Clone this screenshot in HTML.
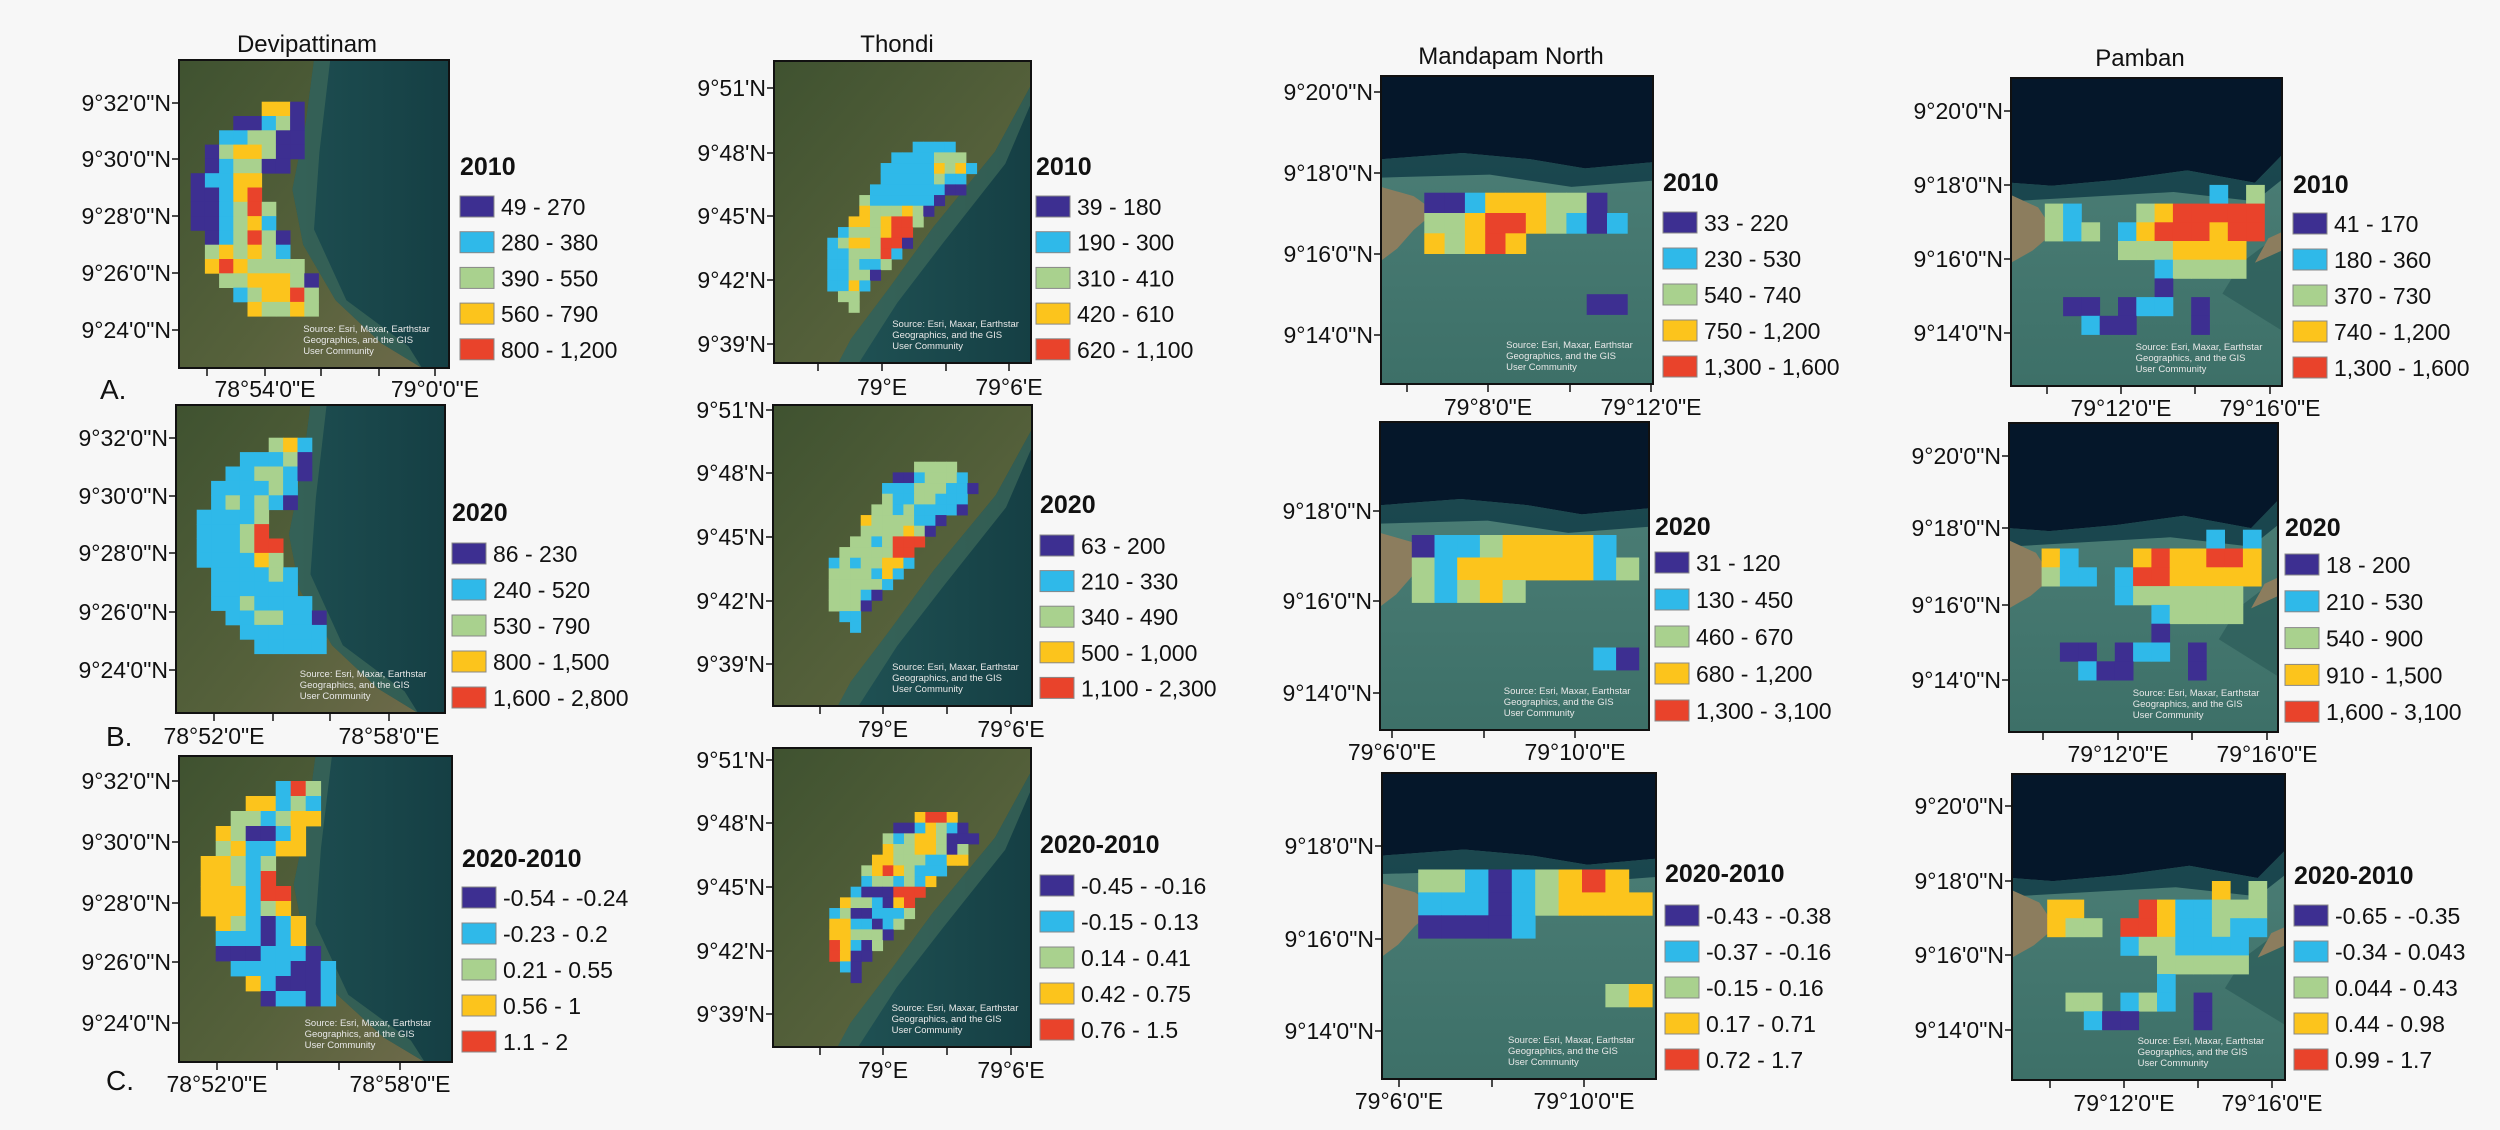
<!DOCTYPE html>
<html><head><meta charset="utf-8"><title>Shoreline change grids</title>
<style>
html,body{margin:0;padding:0;background:#f7f7f7;}
svg{display:block;font-family:"Liberation Sans",Arial,sans-serif;}
</style></head>
<body>
<svg id="fig" width="2500" height="1130" viewBox="0 0 2500 1130" xmlns="http://www.w3.org/2000/svg">
<rect width="2500" height="1130" fill="#f7f7f7"/>
</svg>
<script>
// ---- data: class grids (0 purple,1 cyan,2 green,3 yellow,4 red, '.' empty) ----
const devi2010 = [".....330..","...00120..","..112200..",".0233200..",".012200...","01133.....","00134.....","001242....","001231....",".012420...",".232321...",".3432222..","..2233320.","...123342.","....32232."];
const devi2020 = [".....231..","...11120..","..112210..",".111121...",".121210...","11112.....","11124.....","111244....","111132....",".111121...",".111111...",".1121111..","..1122110.","...111111.","....11111."];
const deviDiff = [".....142..","...33121..","..221233..",".320013...",".231133...","33212.....","33214.....","333144....","333123....",".321013...",".111013...",".0001110..","..1111001.","...310001.","....01101."];
const thondi2010 = ["........1111..","......1111222.",".....111113231",".....11111211.","....111111100.","...21111110...","...3222320....","..3323442.....",".1222344......","12332440......","1122241.......","112112........","11220.........","1131..........",".22...........","..2..........."];
const thondi2020 = ["........2222..","......0012221.",".....111222110",".....21122111.","....221211110.","...32222110...","...2222320....","..2212444.....",".2222244......","12122331......","2222131.......","222221........","22210.........","2220..........",".11...........","..1..........."];
const thondiDiff = ["........3443..","......0013210.",".....212332000",".....32233202.","....332221133.","...23432111...","...1221213....","..1000444.....",".3221034......","12001112......","3311012.......","332220........","43102.........","4300..........",".10...........","..0..........."];
const mand2010 = ["001333220.","2234432101","32343.....","..........","..........","........00"];
const mand2020 = ["011233331.","2133333312","21232.....","..........","..........","........10"];
const mandDiff = ["221012343.","1110123333","00001.....","..........","..........","........23"];
const pam2010 = [".........1.2","21...2344444","212.13444344","....2223333.","......12222.","......0.....",".00.011.0...","..100...0..."];
const pam2020 = [".........1.1","31...3433443","211.14433333","....1222222.","......12222.","......0.....",".00.011.0...","..100...0..."];
const pamDiff = [".........3.2","33...4311222","322.44311211","....1221111.","......22222.","......1.....",".22.121.0...","..100...0..."];

const legDevi2010 = ["49 - 270","280 - 380","390 - 550","560 - 790","800 - 1,200"];
const legDevi2020 = ["86 - 230","240 - 520","530 - 790","800 - 1,500","1,600 - 2,800"];
const legDeviDiff = ["-0.54 - -0.24","-0.23 - 0.2","0.21 - 0.55","0.56 - 1","1.1 - 2"];
const legThondi2010 = ["39 - 180","190 - 300","310 - 410","420 - 610","620 - 1,100"];
const legThondi2020 = ["63 - 200","210 - 330","340 - 490","500 - 1,000","1,100 - 2,300"];
const legThondiDiff = ["-0.45 - -0.16","-0.15 - 0.13","0.14 - 0.41","0.42 - 0.75","0.76 - 1.5"];
const legMand2010 = ["33 - 220","230 - 530","540 - 740","750 - 1,200","1,300 - 1,600"];
const legMand2020 = ["31 - 120","130 - 450","460 - 670","680 - 1,200","1,300 - 3,100"];
const legMandDiff = ["-0.43 - -0.38","-0.37 - -0.16","-0.15 - 0.16","0.17 - 0.71","0.72 - 1.7"];
const legPam2010 = ["41 - 170","180 - 360","370 - 730","740 - 1,200","1,300 - 1,600"];
const legPam2020 = ["18 - 200","210 - 530","540 - 900","910 - 1,500","1,600 - 3,100"];
const legPamDiff = ["-0.65 - -0.35","-0.34 - 0.043","0.044 - 0.43","0.44 - 0.98","0.99 - 1.7"];

const devY = ['9°32\'0"N','9°30\'0"N','9°28\'0"N','9°26\'0"N','9°24\'0"N'];
const thoY = ["9°51'N","9°48'N","9°45'N","9°42'N","9°39'N"];
const manY4 = ['9°20\'0"N','9°18\'0"N','9°16\'0"N','9°14\'0"N'];
const manY3 = ['9°18\'0"N','9°16\'0"N','9°14\'0"N'];

const classColors = ["#3d2f91","#2fb9e9","#a9d18e","#fcc41c","#e9432b"];

const NS="http://www.w3.org/2000/svg";
const svg=document.getElementById('fig');
function el(tag,attrs,parent){const e=document.createElementNS(NS,tag);for(const k in attrs)e.setAttribute(k,attrs[k]);(parent||svg).appendChild(e);return e;}
function txt(s,x,y,size,anchor,parent,weight){const t=el('text',{x:x,y:y,'font-size':size,'text-anchor':anchor||'start',fill:'#111','font-weight':weight||'normal'},parent);t.textContent=s;return t;}

// panel layout
const panels=[
 {id:'devipattinam-2010',grid:devi2010,leg:legDevi2010,yr:'2010',type:'coastA',map:[179,60,449,368],yl:devY,yp:[103,159,216,273,330],xt:[207,265,321,379,435],xl:[[265,'78°54\'0"E'],[435,'79°0\'0"E']],xly:389,lx:460,lty:166,le:206,ls:35.7,gx:190.7,gy:101.7,cw:14.2,ch:14.3},
 {id:'devipattinam-2020',grid:devi2020,leg:legDevi2020,yr:'2020',type:'coastA',map:[176,405,445,713],yl:devY,yp:[438,496,553,612,670],xt:[214,273,330,389],xl:[[214,'78°52\'0"E'],[389,'78°58\'0"E']],xly:736,lx:452,lty:512,le:553,ls:36,gx:196.7,gy:437.7,cw:14.4,ch:14.4},
 {id:'devipattinam-diff',grid:deviDiff,leg:legDeviDiff,yr:'2020-2010',type:'coastA',map:[179,756,452,1062],yl:devY,yp:[781,842,903,962,1023],xt:[217,277,339,400],xl:[[217,'78°52\'0"E'],[400,'78°58\'0"E']],xly:1084,lx:462,lty:858,le:897,ls:36,gx:200.7,gy:781,cw:15,ch:15},
 {id:'thondi-2010',grid:thondi2010,leg:legThondi2010,yr:'2010',type:'coastB',map:[774,61,1031,363],yl:thoY,yp:[88,153,216,280,344],xt:[818,882,946,1009],xl:[[882,'79°E'],[1009,'79°6\'E']],xly:387,lx:1036,lty:166,le:206,ls:35.7,gx:827.3,gy:141.7,cw:10.67,ch:10.67},
 {id:'thondi-2020',grid:thondi2020,leg:legThondi2020,yr:'2020',type:'coastB',map:[773,405,1032,706],yl:thoY,yp:[410,473,537,601,664],xt:[820,883,947,1011],xl:[[883,'79°E'],[1011,'79°6\'E']],xly:729,lx:1040,lty:504,le:545,ls:35.6,gx:828.7,gy:461.7,cw:10.67,ch:10.67},
 {id:'thondi-diff',grid:thondiDiff,leg:legThondiDiff,yr:'2020-2010',type:'coastB',map:[773,748,1031,1047],yl:thoY,yp:[760,823,887,951,1014],xt:[820,883,947,1011],xl:[[883,'79°E'],[1011,'79°6\'E']],xly:1070,lx:1040,lty:844,le:885,ls:36,gx:829.3,gy:812,cw:10.67,ch:10.67},
 {id:'mandapam-2010',grid:mand2010,leg:legMand2010,yr:'2010',type:'bay',map:[1381,76,1653,384],yl:manY4,yp:[92,173,254,335],xt:[1407,1488,1570,1651],xl:[[1488,'79°8\'0"E'],[1651,'79°12\'0"E']],xly:407,lx:1663,lty:182,le:222,ls:36,gx:1424.3,gy:192.7,cw:20.3,ch:20.3},
 {id:'mandapam-2020',grid:mand2020,leg:legMand2020,yr:'2020',type:'bay',map:[1380,422,1649,730],yl:manY3,yp:[511,601,693],xt:[1392,1484,1575],xl:[[1392,'79°6\'0"E'],[1575,'79°10\'0"E']],xly:752,lx:1655,lty:526,le:562,ls:37,gx:1411.8,gy:535,cw:22.7,ch:22.5},
 {id:'mandapam-diff',grid:mandDiff,leg:legMandDiff,yr:'2020-2010',type:'bay',map:[1382,773,1656,1079],yl:manY3,yp:[846,939,1031],xt:[1399,1492,1584],xl:[[1399,'79°6\'0"E'],[1584,'79°10\'0"E']],xly:1101,lx:1665,lty:873,le:915,ls:36,gx:1418.2,gy:869.5,cw:23.4,ch:22.9},
 {id:'pamban-2010',grid:pam2010,leg:legPam2010,yr:'2010',type:'bay2',map:[2011,78,2282,386],yl:manY4,yp:[111,185,259,333],xt:[2047,2121,2195,2270],xl:[[2121,'79°12\'0"E'],[2270,'79°16\'0"E']],xly:408,lx:2293,lty:184,le:223,ls:36,gx:2044.8,gy:184.9,cw:18.3,ch:18.7},
 {id:'pamban-2020',grid:pam2020,leg:legPam2020,yr:'2020',type:'bay2',map:[2009,423,2278,732],yl:manY4,yp:[456,528,605,680],xt:[2043,2118,2192,2267],xl:[[2118,'79°12\'0"E'],[2267,'79°16\'0"E']],xly:754,lx:2285,lty:527,le:564,ls:36.8,gx:2041.6,gy:529.7,cw:18.3,ch:18.8},
 {id:'pamban-diff',grid:pamDiff,leg:legPamDiff,yr:'2020-2010',type:'bay2',map:[2012,774,2285,1080],yl:manY4,yp:[806,881,955,1030],xt:[2050,2124,2198,2272],xl:[[2124,'79°12\'0"E'],[2272,'79°16\'0"E']],xly:1103,lx:2294,lty:875,le:915,ls:36,gx:2047.2,gy:881,cw:18.3,ch:18.6}
];

// defs
const defs=el('defs',{});
function lg(id,stops,x2,y2){const g=el('linearGradient',{id:id,x1:0,y1:0,x2:x2,y2:y2},defs);stops.forEach(s=>el('stop',{offset:s[0],'stop-color':s[1]},g));}
lg('ocean',[[0,'#24595a'],[1,'#153f44']],1,0);
lg('land',[[0,'#3f5230'],[0.6,'#56613b'],[1,'#6d6a4a']],1,1);
lg('shallow',[[0,'#4f8179'],[1,'#3d7068']],0,1);

function pts(m,arr){const w=m[2]-m[0],h=m[3]-m[1];return arr.map(p=>(m[0]+p[0]*w).toFixed(1)+','+(m[1]+p[1]*h).toFixed(1)).join(' ');}

function drawBackground(p,g){
 const m=p.map,w=m[2]-m[0],h=m[3]-m[1];
 if(p.type==='coastA'||p.type==='coastB'){
  el('rect',{x:m[0],y:m[1],width:w,height:h,fill:'url(#ocean)'},g);
  const land=p.type==='coastA'?[[0,0],[0.5,0],[0.47,0.2],[0.42,0.42],[0.46,0.6],[0.58,0.78],[0.75,0.92],[0.9,1],[0,1]]
                             :[[0,0],[1,0],[1,0.08],[0.86,0.3],[0.62,0.55],[0.45,0.75],[0.3,0.92],[0.25,1],[0,1]];
  el('polygon',{points:pts(m,land),fill:'url(#land)'},g);
  const shore=p.type==='coastA'?[[0.5,0],[0.56,0],[0.52,0.3],[0.5,0.55],[0.62,0.78],[0.85,0.93],[0.9,1],[0.75,0.92],[0.58,0.78],[0.46,0.6],[0.42,0.42],[0.47,0.2]]
                              :[[1,0.08],[1,0.14],[0.9,0.34],[0.66,0.6],[0.48,0.8],[0.33,1],[0.25,1],[0.3,0.92],[0.45,0.75],[0.62,0.55],[0.86,0.3]];
  el('polygon',{points:pts(m,shore),fill:'#3f6a5a',opacity:0.7},g);
 } else {
  el('rect',{x:m[0],y:m[1],width:w,height:h,fill:'url(#shallow)'},g);
  const dark=p.type==='bay'?[[0,0],[1,0],[1,0.28],[0.75,0.3],[0.55,0.27],[0.3,0.25],[0,0.27]]
                           :[[0,0],[1,0],[1,0.25],[0.9,0.34],[0.65,0.3],[0.4,0.33],[0.15,0.35],[0,0.34]];
  el('polygon',{points:pts(m,dark),fill:'#05172a'},g);
  el('polygon',{points:pts(m,p.type==='bay'?[[0,0.27],[0.3,0.25],[0.55,0.27],[0.75,0.3],[1,0.28],[1,0.34],[0.7,0.36],[0.4,0.32],[0,0.33]]:[[0,0.34],[0.15,0.35],[0.4,0.33],[0.65,0.3],[0.9,0.34],[1,0.25],[1,0.33],[0.9,0.4],[0.6,0.37],[0,0.4]]),fill:'#0f3a45',opacity:0.8},g);
  const land=p.type==='bay'?[[0,0.36],[0.12,0.39],[0.2,0.44],[0.12,0.5],[0.06,0.56],[0,0.6]]
                           :[[0,0.38],[0.1,0.42],[0.16,0.5],[0.08,0.56],[0,0.6]];
  el('polygon',{points:pts(m,land),fill:'#8c7d5e'},g);
  if(p.type==='bay2'){el('polygon',{points:pts(m,[[1,0.5],[0.85,0.6],[0.78,0.7],[1,0.82]]),fill:'#2e5f5b',opacity:0.8},g);
   el('polygon',{points:pts(m,[[0.95,0.52],[1,0.5],[1,0.56],[0.9,0.6]]),fill:'#8c7d5e'},g);}
 }
}

panels.forEach(p=>{
 const g=el('g',{});
 
 
 const m=p.map;
 const mapG=el('g',{},g);
 
 
 drawBackground(p,mapG);
 // grid cells
 const cellG=el('g',{},g);
 
 
 const cx=c=>p.gx+c*p.cw, cy=r=>p.gy+r*p.ch;
 p.grid.forEach((row,r)=>{for(let c=0;c<row.length;c++){const ch=row[c];if(ch==='.')continue;
  const rc=el('rect',{x:cx(c).toFixed(2),y:cy(r).toFixed(2),width:(p.cw+0.4).toFixed(2),height:(p.ch+0.4).toFixed(2),fill:classColors[+ch]},cellG);
  
  }});
 // attribution
 const srcX=m[0]+(m[2]-m[0])*0.46, srcY=m[3]-36;
 ['Source: Esri, Maxar, Earthstar','Geographics, and the GIS','User Community'].forEach((s,i)=>{
  const t=el('text',{x:srcX,y:srcY+i*11,'font-size':9.5,fill:'#e8e8e8'},g);t.textContent=s;
  
  });
 // frame
 const fr=el('rect',{x:m[0],y:m[1],width:m[2]-m[0],height:m[3]-m[1],fill:'none',stroke:'#111','stroke-width':2},g);
 
 
 // y ticks
 p.yl.forEach((lab,i)=>{const y=p.yp[i];
  el('line',{x1:m[0]-7,x2:m[0],y1:y,y2:y,stroke:'#111','stroke-width':1.5},g);
  const t=txt(lab,m[0]-8,y+8,23,'end',g);
  
  });
 // x ticks
 p.xt.forEach(x=>el('line',{x1:x,x2:x,y1:m[3],y2:m[3]+8,stroke:'#111','stroke-width':1.5},g));
 p.xl.forEach(a=>{const t=txt(a[1],a[0],p.xly+8,23,'middle',g);
  
  });
 // legend
 const lgG=el('g',{},g);
 
 
 const tt=txt(p.yr,p.lx,p.lty+9,25,'start',lgG,'bold');
 
 
 p.leg.forEach((lab,i)=>{const y=p.le+i*p.ls;
  const sw=el('rect',{x:p.lx,y:y-10,width:34,height:21,fill:classColors[i],stroke:'#888','stroke-width':1},lgG);
  
  
  const t=txt(lab,p.lx+41,y+9,23,'start',lgG);
  
  });
});

// column titles and row labels
[[307,43,'Devipattinam','title-devipattinam'],[897,43,'Thondi','title-thondi'],[1511,55,'Mandapam North','title-mandapam-north'],[2140,57,'Pamban','title-pamban']].forEach(a=>{
 const t=txt(a[2],a[0],a[1]+9,24,'middle');
 
 });
[[100,389,'A.','row-label-a'],[106,736,'B.','row-label-b'],[106,1080,'C.','row-label-c']].forEach(a=>{
 const t=txt(a[2],a[0],a[1]+10,28,'start');
 
 });
</script>
</body></html>
